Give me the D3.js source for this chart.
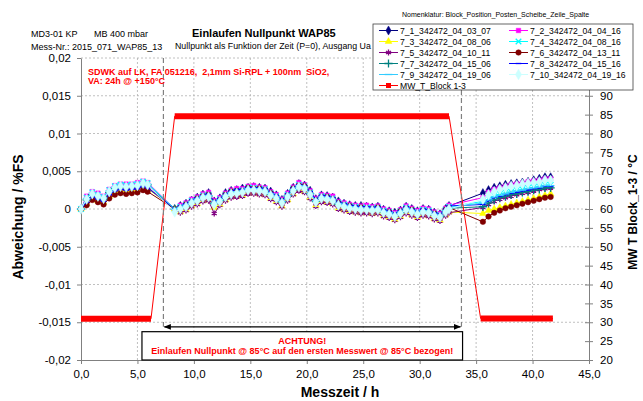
<!DOCTYPE html>
<html>
<head>
<meta charset="utf-8">
<script src="https://cdn.jsdelivr.net/npm/d3@7"></script>
<style>
  body { margin: 0; background: #fff; }
  svg { font-family: "Liberation Sans", Arial, sans-serif; }
</style>
</head>
<body>
<div id="chart"></div>
<script>
// measurement times (h): 30°C phase, 85°C phase, back at 30°C
const timeH = [
  0, 0.5, 1, 1.5, 2, 2.5, 3, 3.5, 4, 4.5, 5, 5.5, 5.9,
  8.3, 8.8, 9.3, 9.8, 10.3, 10.8, 11.3, 11.8, 12.3, 12.8, 13.3, 13.8, 14.3, 14.8, 15.3, 15.8,
  16.3, 16.8, 17.3, 17.8, 18.3, 18.8, 19.3, 19.8, 20.3, 20.8, 21.3, 21.8, 22.3, 22.8, 23.3,
  23.8, 24.3, 24.8, 25.3, 25.8, 26.3, 26.8, 27.3, 27.8, 28.3, 28.8, 29.3, 29.8, 30.3, 30.8,
  31.3, 31.8, 32.3, 32.6,
  35.6, 36.1, 36.6, 37.1, 37.6, 38.1, 38.6, 39.1, 39.6, 40.1, 40.6, 41.1, 41.6
];

// zero point deviation, in units of 1e-4 %FS
const s7_1 = [0,8,17,12,11,18,24,26,25,27,27,29,28,
  0,4,7,11,15,19,21,10,14,21,24,25,27,28,29,28,27,23,18,12,20,28,33,31,24,13,18,17,15,10,7,5,4,4,3,2,3,-1,-3,-5,-2,3,0,-3,0,-1,-5,-7,0,4,
  21,25,28,30,32,33,34,35,36,38,40,42,42];
const s7_2 = [0,17,23,21,17,26,31,33,33,33,35,37,35,
  0,5,8,13,16,20,22,11,15,21,25,27,27,30,31,29,28,23,19,13,21,29,35,32,24,14,19,18,17,10,8,6,5,4,5,3,4,0,-2,-5,-1,4,1,-2,1,0,-4,-6,1,5,
  15,22,26,28,30,32,33,34,36,37,38,40,40];
const s7_3 = [0,7,15,11,9,17,23,25,24,25,26,29,27,
  0,-4,-1,4,7,11,12,2,6,12,16,17,18,21,21,20,19,14,10,4,12,20,25,23,15,5,10,9,7,1,-1,-3,-4,-5,-5,-6,-5,-9,-11,-14,-10,-5,-8,-11,-8,-9,-13,-15,-8,-4,
  -6,-2,0,2,4,6,8,10,12,14,16,18,20];
const s7_4 = [0,15,22,19,16,25,30,32,31,32,33,36,34,
  0,3,6,11,14,18,19,9,13,19,23,24,25,28,28,27,26,21,17,11,19,27,32,30,22,12,17,16,14,8,6,4,3,2,2,1,2,-2,-4,-7,-3,2,-1,-4,-1,-2,-6,-8,-1,3,
  10,14,18,20,22,23,25,26,28,29,30,32,32];
const s7_5 = [0,9,17,14,11,20,25,27,26,27,28,31,29,
  0,-5,-2,3,6,10,11,-6,5,11,15,16,17,20,20,19,18,13,9,3,11,19,24,22,14,4,9,8,6,0,-2,-4,-5,-6,-6,-7,-6,-10,-12,-15,-11,-6,-9,-12,-9,-10,-14,-16,-9,-5,
  2,6,10,13,15,17,19,21,22,24,26,27,28];
const s7_6 = [0,5,12,9,6,14,19,21,20,21,22,25,23,
  0,2,6,10,14,17,19,9,12,19,23,24,24,28,27,27,25,21,16,11,18,27,31,30,21,12,16,16,13,8,5,4,2,2,1,0,2,-3,-4,-8,-3,1,-1,-5,-2,-3,-6,-9,-1,2,
  -17,-10,-5,-2,1,3,5,7,9,11,13,15,16];
const s7_7 = [0,12,19,16,13,22,27,29,28,29,30,33,32,
  0,1,4,9,12,16,17,7,11,17,21,22,23,26,26,25,24,19,15,9,17,25,30,28,20,10,15,14,12,6,4,2,1,0,0,-1,0,-4,-6,-9,-5,0,-3,-6,-3,-4,-8,-10,-3,1,
  3,8,12,15,17,19,20,22,23,25,26,28,28];
const s7_8 = [0,9,16,13,10,19,24,26,25,26,27,30,28,
  0,4,7,12,15,18,20,10,14,20,24,26,26,29,28,28,27,22,18,12,20,28,32,31,23,13,18,17,15,9,7,5,4,3,3,2,3,-1,-3,-6,-2,3,0,-3,0,-1,-5,-7,0,4,
  6,11,15,17,19,21,22,24,25,27,28,30,30];
const s7_9 = [0,14,21,18,15,24,29,31,30,31,32,35,33,
  0,2,5,10,13,17,18,8,12,18,22,23,24,27,27,26,25,20,16,10,18,26,31,29,21,11,16,15,13,7,5,3,2,1,1,0,1,-3,-5,-8,-4,1,-2,-5,-2,-3,-7,-9,-2,2,
  8,12,16,18,20,22,24,25,27,28,29,31,31];
const s7_10 = [0,13,20,17,14,23,28,30,29,30,31,34,32,
  -4,0,3,8,11,15,16,6,10,16,20,21,22,25,25,24,23,18,14,8,16,24,29,27,19,9,14,13,11,5,3,1,0,-1,-1,-2,-1,-5,-7,-10,-6,-1,-4,-7,-4,-5,-9,-11,-4,0,
  13,19,23,26,28,30,31,33,34,35,36,38,38];

const seriesNames = ["7_1_342472_04_03_07", "7_2_342472_04_04_16", "7_3_342472_04_08_06",
  "7_4_342472_04_08_16", "7_5_342472_04_10_11", "7_6_342472_04_13_11", "7_7_342472_04_15_06",
  "7_8_342472_04_15_16", "7_9_342472_04_19_06", "7_10_342472_04_19_16"];
const seriesValues = [s7_1, s7_2, s7_3, s7_4, s7_5, s7_6, s7_7, s7_8, s7_9, s7_10];
const seriesColors = ["#000080", "#ff00ff", "#ffff00", "#00ffff", "#800080",
  "#800000", "#008080", "#0000ff", "#33ccff", "#ccffff"];

// mean block temperature (°C), plateaus drawn as heavy bands
const tempTimes = [0, 6.2, 8.3, 32.6, 35.4, 41.8];
const tempValues = [30.9, 30.9, 84.6, 84.6, 31, 31];
const tempPlateaus = [[0, 1], [2, 3], [4, 5]];

const xTicks = [0, 5, 10, 15, 20, 25, 30, 35, 40, 45];
const xTickLabels = ["0,0", "5,0", "10,0", "15,0", "20,0", "25,0", "30,0", "35,0", "40,0", "45,0"];
const yTicks = [-0.02, -0.015, -0.01, -0.005, 0, 0.005, 0.01, 0.015, 0.02];
const yTickLabels = ["-0,02", "-0,015", "-0,01", "-0,005", "0", "0,005", "0,01", "0,015", "0,02"];
// 95 and 100 sit behind the legend
const rTicks = [20, 25, 30, 35, 40, 45, 50, 55, 60, 65, 70, 75, 80, 85, 90];

// annotation: reference window
const refStart = 7.3, refEnd = 33.7;

const width = 643, height = 401;
const x = d3.scaleLinear().domain([0, 45]).range([81, 589]);
const yL = d3.scaleLinear().domain([-0.02, 0.02]).range([360, 58]);
const yR = d3.scaleLinear().domain([20, 100]).range([360, 58]);

const svg = d3.select("#chart").append("svg")
  .attr("width", width).attr("height", height);

// header
svg.append("text").attr("x", 31).attr("y", 37).attr("font-size", 9).text("MD3-01 KP");
svg.append("text").attr("x", 94).attr("y", 37).attr("font-size", 9).text("MB 400 mbar");
svg.append("text").attr("x", 31).attr("y", 50).attr("font-size", 9).text("Mess-Nr.: 2015_071_WAP85_13");
svg.append("text").attr("x", 192).attr("y", 37).attr("font-size", 11).attr("font-weight", "bold")
  .text("Einlaufen Nullpunkt WAP85");
svg.append("text").attr("x", 175).attr("y", 49).attr("font-size", 8.8)
  .text("Nullpunkt als Funktion der Zeit (P=0), Ausgang Ua");

// grid
const grid = svg.append("g").attr("stroke", "#b0b0b0").attr("stroke-dasharray", "2,2").attr("stroke-width", 0.8);
grid.selectAll("line.v").data(xTicks.slice(1, -1)).join("line")
  .attr("x1", d => x(d)).attr("x2", d => x(d)).attr("y1", yL(0.02)).attr("y2", yL(-0.02));
grid.selectAll("line.h").data(yTicks.slice(1)).join("line")
  .attr("x1", x(0)).attr("x2", x(45)).attr("y1", d => yL(d)).attr("y2", d => yL(d));

// axes
const axL = svg.append("g").attr("transform", `translate(${x(0)},0)`)
  .call(d3.axisLeft(yL).tickValues(yTicks).tickFormat((d, i) => yTickLabels[i])
    .tickSizeInner(4).tickSizeOuter(0).tickPadding(6));
const axB = svg.append("g").attr("transform", `translate(0,${yL(-0.02)})`)
  .call(d3.axisBottom(x).tickValues(xTicks).tickFormat((d, i) => xTickLabels[i])
    .tickSizeInner(4).tickSizeOuter(0).tickPadding(6));
const axR = svg.append("g").attr("transform", `translate(${x(45)},0)`)
  .call(d3.axisRight(yR).tickValues(rTicks).tickFormat(d => d)
    .tickSizeInner(4).tickSizeOuter(0).tickPadding(7));
axR.selectAll(".tick line").attr("x1", -4);
[axL, axB, axR].forEach(a => {
  a.selectAll("path.domain, .tick line").attr("stroke", "#808080");
  a.selectAll("text").attr("font-size", 11.5).attr("fill", "#000")
    .attr("font-family", "Liberation Sans, Arial, sans-serif");
});

// axis titles
svg.append("text").attr("transform", "translate(23,217) rotate(-90)").attr("text-anchor", "middle")
  .attr("font-size", 14).attr("font-weight", "bold").text("Abweichung / %FS");
svg.append("text").attr("transform", "translate(637,212) rotate(-90)").attr("text-anchor", "middle")
  .attr("font-size", 12).attr("font-weight", "bold").text("MW T Block_1-3 / °C");
svg.append("text").attr("x", 340).attr("y", 397).attr("text-anchor", "middle")
  .attr("font-size", 14).attr("font-weight", "bold").text("Messzeit / h");

// markers
const dash = { draw(ctx, size) { const w = Math.sqrt(size) * 0.7; ctx.moveTo(-w, 0); ctx.lineTo(w, 0); } };
const markers = [
  { type: d3.symbolDiamond, size: 24, filled: true },
  { type: d3.symbolSquare, size: 20, filled: true },
  { type: d3.symbolTriangle, size: 20, filled: true },
  { type: d3.symbolTimes || d3.symbolCross, size: 22, filled: false },
  { type: d3.symbolAsterisk || d3.symbolCross, size: 24, filled: false },
  { type: d3.symbolCircle, size: 24, filled: true },
  { type: d3.symbolPlus || d3.symbolCross, size: 24, filled: false },
  { type: dash, size: 16, filled: false },
  { type: dash, size: 30, filled: false },
  { type: d3.symbolDiamond, size: 32, filled: true }
];
function drawMarker(sel, i) {
  const m = markers[i];
  sel.attr("d", d3.symbol().type(m.type).size(m.size)())
    .attr("fill", m.filled ? seriesColors[i] : "none")
    .attr("stroke", seriesColors[i])
    .attr("stroke-width", m.filled ? 0.5 : 1.3);
}

// deviation series
const line = d3.line().x((d, i) => x(timeH[i])).y(d => yL(d * 1e-4));
const plot = svg.append("g");
seriesValues.forEach((vals, i) => {
  const g = plot.append("g");
  g.append("path").attr("d", line(vals)).attr("fill", "none")
    .attr("stroke", seriesColors[i]).attr("stroke-width", 1);
  g.selectAll("path.m").data(vals).join("path").attr("class", "m")
    .attr("transform", (d, j) => `translate(${x(timeH[j])},${yL(d * 1e-4)})`)
    .call(drawMarker, i);
});

// temperature on right axis
const tLine = d3.line().x((d, i) => x(tempTimes[i])).y(d => yR(d));
svg.append("path").attr("d", tLine(tempValues)).attr("fill", "none")
  .attr("stroke", "#ff0000").attr("stroke-width", 1);
svg.selectAll("line.plateau").data(tempPlateaus).join("line")
  .attr("x1", d => x(tempTimes[d[0]])).attr("x2", d => x(tempTimes[d[1]]))
  .attr("y1", d => yR(tempValues[d[0]])).attr("y2", d => yR(tempValues[d[1]]))
  .attr("stroke", "#ff0000").attr("stroke-width", 6);

// reference window annotation
svg.selectAll("line.ref").data([refStart, refEnd]).join("line")
  .attr("x1", d => x(d)).attr("x2", d => x(d)).attr("y1", yL(0.02)).attr("y2", yL(-0.0156))
  .attr("stroke", "#808080").attr("stroke-width", 1.2).attr("stroke-dasharray", "5,3");
const defs = svg.append("defs");
defs.append("marker").attr("id", "ah").attr("viewBox", "0 0 10 10").attr("refX", 9).attr("refY", 5)
  .attr("markerWidth", 6).attr("markerHeight", 6).attr("orient", "auto-start-reverse")
  .append("path").attr("d", "M0,1L10,5L0,9Z").attr("fill", "#000");
svg.append("line").attr("x1", x(refStart) + 1).attr("x2", x(refEnd) - 1)
  .attr("y1", yL(-0.0156)).attr("y2", yL(-0.0156))
  .attr("stroke", "#000").attr("stroke-width", 1.2)
  .attr("marker-start", "url(#ah)").attr("marker-end", "url(#ah)");

svg.append("rect").attr("x", x(5.4)).attr("y", yL(-0.01625))
  .attr("width", x(33.8) - x(5.4)).attr("height", yL(-0.02) - yL(-0.01625))
  .attr("fill", "#fff").attr("stroke", "#000").attr("stroke-width", 1.2);
const boxMid = (x(5.4) + x(33.8)) / 2;
svg.append("text").attr("x", boxMid).attr("y", 343.5).attr("text-anchor", "middle")
  .attr("font-size", 9).attr("font-weight", "bold").attr("fill", "#ff0000").text("ACHTUNG!");
svg.append("text").attr("x", boxMid).attr("y", 353.5).attr("text-anchor", "middle")
  .attr("font-size", 9).attr("font-weight", "bold").attr("fill", "#ff0000")
  .text("Einlaufen Nullpunkt @ 85°C auf den ersten Messwert @ 85°C bezogen!");

svg.append("text").attr("x", 88).attr("y", 75).attr("font-size", 9).attr("font-weight", "bold")
  .attr("fill", "#ff0000").attr("xml:space", "preserve")
  .text("SDWK auf LK, FA 051216,  2,1mm Si-RPL + 100nm  SiO2,");
svg.append("text").attr("x", 88).attr("y", 84).attr("font-size", 9).attr("font-weight", "bold")
  .attr("fill", "#ff0000").text("VA: 24h @ +150°C");

// legend
svg.append("text").attr("x", 402).attr("y", 17).attr("font-size", 7)
  .text("Nomenklatur: Block_Position_Posten_Scheibe_Zeile_Spalte");
const lg = svg.append("g");
lg.append("rect").attr("x", 373).attr("y", 24).attr("width", 260).attr("height", 66)
  .attr("fill", "#fff").attr("stroke", "#404040").attr("stroke-width", 0.8);
seriesNames.forEach((name, i) => {
  const lx = i % 2 === 0 ? 379 : 509;
  const ly = 30.5 + Math.floor(i / 2) * 11;
  lg.append("line").attr("x1", lx).attr("x2", lx + 19).attr("y1", ly).attr("y2", ly)
    .attr("stroke", seriesColors[i]).attr("stroke-width", 1);
  lg.append("path").attr("transform", `translate(${lx + 9.5},${ly})`).call(drawMarker, i);
  lg.append("text").attr("x", lx + 21).attr("y", ly + 3.2).attr("font-size", 8.6).text(name);
});
lg.append("line").attr("x1", 379).attr("x2", 398).attr("y1", 85.5).attr("y2", 85.5)
  .attr("stroke", "#ff0000").attr("stroke-width", 1);
lg.append("rect").attr("x", 386).attr("y", 83).attr("width", 5).attr("height", 5).attr("fill", "#ff0000");
lg.append("text").attr("x", 400).attr("y", 88.7).attr("font-size", 8.6).text("MW_T_Block 1-3");
</script>
</body>
</html>
